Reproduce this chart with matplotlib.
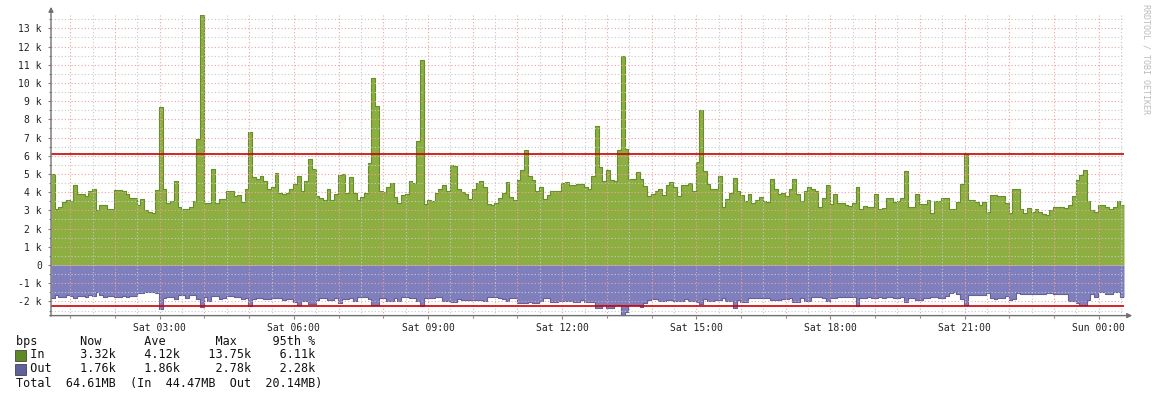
import numpy as np
import matplotlib
matplotlib.use("Agg")
import matplotlib.pyplot as plt
from matplotlib.patches import FancyArrowPatch, Rectangle

# 5-minute samples, Sat 00:34 -> Sun 00:34 (values in k bps)
start_hour = 0.567
step_hour = 5 / 60

in_k = [
    5.0, 3.07, 3.2, 3.45, 3.55, 3.5, 4.4, 3.9, 3.9, 3.8, 4.05, 4.2, 3.0, 3.3, 3.3, 3.1,
    3.1, 4.1, 4.1, 4.05, 3.9, 3.7, 3.7, 3.3, 3.6, 3.0, 2.9, 2.85, 4.1, 8.7, 4.2, 3.4,
    3.5, 4.6, 3.2, 3.1, 3.1, 3.2, 3.5, 6.9, 13.75, 3.4, 3.4, 5.3, 3.4, 3.65, 3.6, 4.05,
    4.05, 3.8, 3.85, 3.45, 4.15, 7.3, 4.85, 4.75, 4.9, 4.6, 4.15, 4.3, 5.05, 3.95, 3.9, 3.95,
    4.2, 4.45, 4.9, 4.05, 4.6, 5.85, 5.3, 3.8, 3.7, 3.55, 4.15, 3.55, 3.9, 4.95, 5.0, 3.95,
    4.85, 3.95, 3.55, 3.75, 3.95, 5.6, 10.25, 8.75, 4.05, 4.0, 4.3, 4.5, 3.75, 3.4, 3.85, 3.9,
    4.6, 4.5, 6.8, 11.25, 3.35, 3.55, 3.5, 3.95, 4.2, 4.4, 4.05, 5.5, 5.45, 4.2, 4.0, 3.9,
    3.6, 4.15, 4.5, 4.6, 4.3, 3.35, 3.3, 3.4, 3.7, 3.95, 4.55, 3.75, 3.55, 4.65, 5.2, 6.3,
    4.9, 4.65, 4.05, 4.3, 3.6, 3.85, 4.05, 4.05, 4.05, 4.5, 4.55, 4.4, 4.4, 4.45, 4.45, 4.3,
    4.15, 4.9, 7.65, 5.4, 4.6, 5.2, 4.65, 4.6, 6.3, 11.5, 6.35, 4.75, 4.75, 5.1, 4.7, 4.35,
    3.8, 3.9, 4.05, 4.15, 3.85, 4.4, 4.55, 4.3, 3.8, 4.4, 4.4, 4.5, 4.05, 5.65, 8.5, 5.15,
    4.45, 4.2, 4.2, 4.9, 3.2, 3.6, 3.95, 4.8, 4.05, 3.85, 3.5, 3.9, 3.4, 3.55, 3.75, 3.5,
    3.45, 4.7, 4.15, 3.9, 3.95, 3.8, 4.2, 4.75, 3.9, 3.5, 4.05, 4.3, 4.15, 4.05, 3.2, 3.7,
    4.4, 3.35, 3.9, 3.4, 3.4, 3.3, 3.25, 3.4, 4.3, 3.1, 3.25, 3.2, 3.2, 3.9, 3.1, 3.15,
    3.7, 3.7, 3.45, 3.5, 3.7, 5.15, 3.2, 3.2, 3.9, 3.35, 3.35, 3.55, 2.85, 3.5, 3.5, 3.7,
    3.7, 3.1, 3.05, 3.45, 4.45, 6.1, 3.55, 3.55, 3.45, 3.3, 3.45, 2.9, 3.85, 3.85, 3.8, 3.8,
    3.4, 2.85, 4.15, 4.15, 3.1, 2.85, 3.15, 2.9, 3.05, 2.9, 2.8, 2.75, 3.0, 3.2, 3.2, 3.2,
    3.15, 3.3, 3.8, 4.65, 4.95, 5.2, 3.5, 3.0, 2.9, 3.3, 3.3, 3.2, 3.1, 3.2, 3.5, 3.32,
]

out_k = [
    1.83, 1.65, 1.74, 1.74, 1.65, 1.7, 1.83, 1.7, 1.72, 1.74, 1.65, 1.7, 1.47, 1.65, 1.74, 1.72,
    1.7, 1.74, 1.74, 1.7, 1.74, 1.7, 1.7, 1.56, 1.56, 1.5, 1.5, 1.5, 1.56, 2.44, 1.83, 1.74,
    1.74, 1.89, 1.65, 1.65, 1.83, 1.65, 1.65, 1.89, 2.29, 1.74, 1.96, 1.7, 1.7, 1.89, 1.8, 1.7,
    1.7, 1.78, 1.78, 1.89, 1.83, 2.25, 1.89, 1.83, 1.83, 1.89, 1.89, 1.83, 1.83, 1.83, 1.92, 1.89,
    1.89, 2.01, 2.2, 1.96, 1.96, 2.14, 2.14, 1.92, 1.83, 1.83, 1.92, 1.92, 1.83, 2.1, 1.89, 1.89,
    1.83, 1.96, 1.78, 1.78, 1.78, 1.89, 2.2, 2.2, 1.83, 1.83, 1.96, 1.96, 1.83, 1.96, 1.74, 1.74,
    1.83, 1.83, 1.98, 2.25, 1.83, 1.83, 1.83, 1.78, 1.78, 1.96, 1.96, 2.01, 2.01, 1.89, 1.92, 1.92,
    1.92, 1.92, 1.92, 1.92, 1.96, 1.78, 1.74, 1.74, 1.83, 1.89, 1.96, 1.83, 1.83, 2.07, 2.07, 2.1,
    2.01, 2.07, 2.07, 1.96, 1.83, 1.83, 2.01, 2.01, 1.96, 1.96, 1.96, 1.96, 2.01, 2.01, 1.92, 2.01,
    2.01, 2.01, 2.38, 2.38, 2.2, 2.38, 2.38, 2.2, 2.2, 2.78, 2.6, 2.2, 2.2, 2.2, 2.33, 2.1,
    1.92, 1.89, 1.89, 1.96, 1.96, 1.92, 1.92, 1.96, 1.96, 1.96, 1.89, 1.96, 1.96, 2.01, 2.14, 1.89,
    1.96, 1.96, 1.92, 1.92, 1.83, 1.96, 1.96, 2.38, 1.92, 2.01, 2.01, 1.83, 1.83, 1.83, 1.83, 1.83,
    1.83, 1.92, 1.92, 1.92, 1.89, 1.89, 1.83, 2.01, 2.01, 1.83, 1.96, 1.96, 1.78, 1.78, 1.78, 1.83,
    1.96, 1.83, 1.83, 1.78, 1.78, 1.78, 1.78, 1.78, 2.25, 1.83, 1.83, 1.74, 1.83, 1.83, 1.74, 1.83,
    1.78, 1.78, 1.83, 1.83, 1.78, 2.01, 1.83, 1.83, 1.92, 1.92, 1.83, 1.83, 1.74, 1.74, 1.83, 1.83,
    1.7, 1.56, 1.47, 1.59, 1.89, 2.2, 1.65, 1.65, 1.65, 1.65, 1.65, 1.52, 1.83, 1.89, 1.83, 1.83,
    1.7, 1.92, 1.89, 1.56, 1.59, 1.59, 1.59, 1.59, 1.59, 1.59, 1.59, 1.52, 1.52, 1.59, 1.59, 1.59,
    1.59, 1.96, 1.96, 2.1, 2.2, 2.2, 1.92, 1.59, 1.74, 1.47, 1.47, 1.59, 1.59, 1.47, 1.47, 1.76,
]

pct95_in = 6.11
pct95_out = 2.28

tick_hours = [3, 6, 9, 12, 15, 18, 21, 24]
tick_labels = ["Sat 03:00", "Sat 06:00", "Sat 09:00", "Sat 12:00",
               "Sat 15:00", "Sat 18:00", "Sat 21:00", "Sun 00:00"]

legend_rows = [
    "bps      Now      Ave       Max     95th %",
    "  In     3.32k    4.12k    13.75k    6.11k",
    "  Out    1.76k    1.86k     2.78k    2.28k",
    "Total  64.61MB  (In  44.47MB  Out  20.14MB)",
]

W, H = 1156, 397
def fx(px):
    return px / W
def fy(py):
    return 1 - py / H

mono = "DejaVu Sans Mono"
fig = plt.figure(figsize=(W / 100, H / 100), dpi=100, facecolor="white")
ax = fig.add_axes([fx(51), fy(315.6), fx(1124) - fx(51), fy(14.7) - fy(315.6)])

n = len(in_k)
t = start_hour + np.arange(n + 1) * step_hour
vin = np.append(in_k, in_k[-1])
vout = -np.append(out_k, out_k[-1])

ax.fill_between(t, 0, vin, step="post", color="#8DAE41", lw=0, zorder=1)
ax.step(t, vin, where="post", color="#64902A", lw=0.8, zorder=2)
ax.fill_between(t, 0, vout, step="post", color="#7F7FBE", lw=0, zorder=1)
ax.step(t, vout, where="post", color="#62629A", lw=0.8, zorder=2)

ymin, ymax = -2.78, 13.75
xmin, xmax = t[0], t[-1]
ax.set_xlim(xmin, xmax)
ax.set_ylim(ymin, ymax)

# grid: grey minor, pink major, drawn over the areas
dots = (0, (1, 2))
for y in np.arange(-2.5, 14, 0.5):
    major = abs(y - round(y)) < 1e-6
    ax.axhline(y, color="#F4A0A0" if major else "#C8C8C8", lw=0.8, ls=dots, zorder=3)
for h in np.arange(1, 25, 0.5):
    major = abs(h - round(h)) < 1e-6
    ax.axvline(h, color="#F4A0A0" if major else "#C8C8C8", lw=0.8, ls=dots, zorder=3)

ax.axhline(pct95_in, color="#CC0000", lw=1.2, zorder=4)
ax.axhline(-pct95_out, color="#CC0000", lw=1.2, zorder=4)

yt = list(range(-2, 14))
ax.set_yticks(yt)
ax.set_yticklabels([("%d k" % v) if v != 0 else "0" for v in yt])
ax.set_yticks(np.arange(-2.5, 14, 0.5), minor=True)
ax.set_xticks(tick_hours)
ax.set_xticklabels(tick_labels)
ax.set_xticks(np.arange(1, 25, 1), minor=True)
ax.tick_params(which="both", direction="out", color="#808080", width=0.8,
               labelsize=7, labelcolor="#222222")
ax.tick_params(which="major", length=2.5)
ax.tick_params(which="minor", length=1.5)
ax.tick_params(axis="y", pad=4)
ax.tick_params(axis="x", pad=3)
for lab in ax.get_xticklabels() + ax.get_yticklabels():
    lab.set_family(mono)

for s in ax.spines.values():
    s.set_visible(False)

axis_col = "#707070"
fig.add_artist(FancyArrowPatch((fx(47), fy(315.6)), (fx(1135), fy(315.6)),
                               transform=fig.transFigure, arrowstyle="-|>",
                               mutation_scale=7, color=axis_col, lw=1))
fig.add_artist(FancyArrowPatch((fx(51), fy(319)), (fx(51), fy(4)),
                               transform=fig.transFigure, arrowstyle="-|>",
                               mutation_scale=7, color=axis_col, lw=1))

fig.text(fx(1146), fy(4), "RRDTOOL / TOBI OETIKER", rotation=270, ha="center",
         va="top", fontsize=6, color="#BBBBBB", family=mono)

row_y = [341, 355, 369, 383]
for txt, y in zip(legend_rows, row_y):
    fig.text(fx(16), fy(y), txt, ha="left", va="center", fontsize=8.5,
             family=mono, color="#111111")
fig.add_artist(Rectangle((fx(15), fy(361)), fx(11), 11 / H, transform=fig.transFigure,
                         facecolor="#5F8A22", edgecolor="#444444", lw=0.6))
fig.add_artist(Rectangle((fx(15), fy(375)), fx(11), 11 / H, transform=fig.transFigure,
                         facecolor="#60609C", edgecolor="#444444", lw=0.6))

fig.savefig("out.png", dpi=100, facecolor="white")
